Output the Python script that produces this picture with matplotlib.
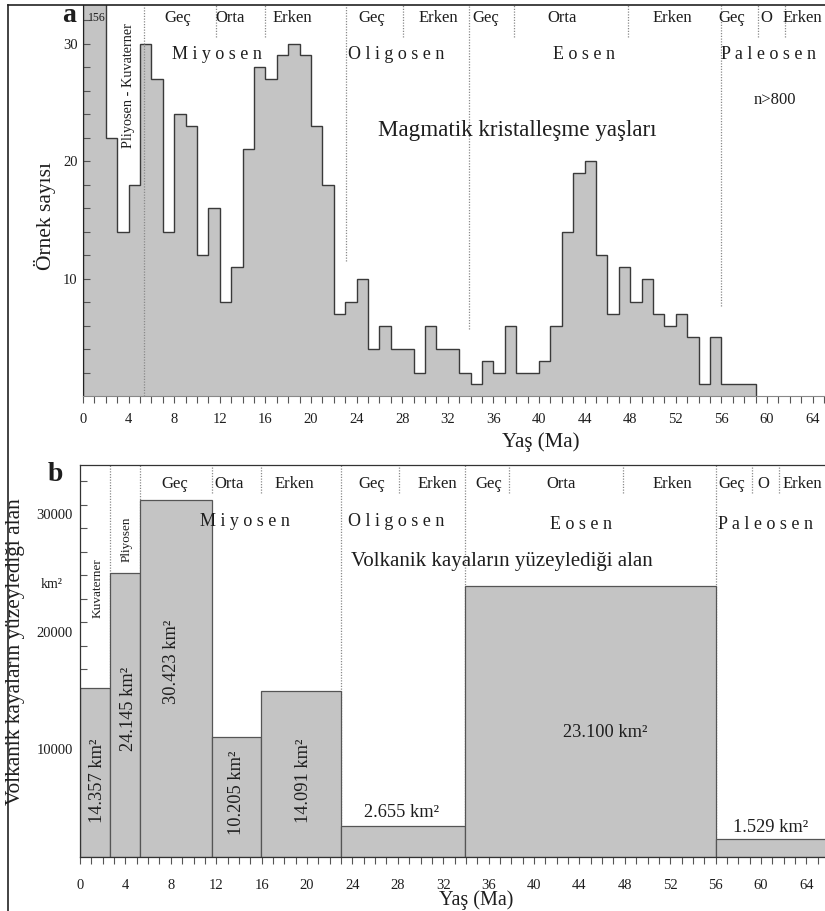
import matplotlib.pyplot as plt
import matplotlib.transforms as mtransforms
from matplotlib.lines import Line2D

plt.rcParams['font.family'] = ['Liberation Serif', 'DejaVu Serif']

# --- veri ---
# a: magmatik kristallesme yaslari, 1 My'lik siniflar (0-59 Ma)
yas_kenar = list(range(0, 60))
ornek_sayisi = [156, 34, 22, 14, 18, 30, 27, 14, 24, 23, 12, 16, 8, 11, 21, 28, 27, 29, 30, 29,
                23, 18, 7, 8, 10, 4, 6, 4, 4, 2, 6, 4, 4, 2, 1, 3, 2, 6, 2, 2,
                3, 6, 14, 19, 20, 12, 7, 11, 8, 10, 7, 6, 7, 5, 1, 5, 1, 1, 1]

# b: volkanik kayalarin yuzeyledigi alan (km2)
donem_sinir = [0, 2.6, 5.33, 11.63, 15.97, 23.03, 33.9, 56.0, 66.0]
alan_km2 = [14357, 24145, 30423, 10205, 14091, 2655, 23100, 1529]

# jeolojik zaman cizelgesi
devirler = ["Miyosen", "Oligosen", "Eosen", "Paleosen"]
alt_devirler = ["Geç", "Orta", "Erken", "Geç", "Erken", "Geç", "Orta", "Erken", "Geç", "O", "Erken"]
devir_sinir = [5.33, 23.03, 33.9, 56.0]
alt_sinir = [11.63, 15.97, 28.1, 37.8, 47.8, 59.2, 61.6]

GRI = "#c4c4c4"
KOYU = "#3a3a3a"
NOKTA = "#8a8a8a"
YAZI = "#1e1e1e"

W, H = 825, 911
fig = plt.figure(figsize=(W / 100, H / 100), dpi=100)


def kutu(x0, y0, x1, y1):
    return [x0 / W, 1 - y1 / H, (x1 - x0) / W, (y1 - y0) / H]


# cerceve
fig.add_artist(Line2D([8 / W, 8 / W], [0, 1 - 5 / H], color="#222222", lw=1.2))
fig.add_artist(Line2D([8 / W, 1], [1 - 5 / H, 1 - 5 / H], color="#222222", lw=1.2))

# ================= a =================
ax = fig.add_axes(kutu(83, 5, 825, 396))
ax.set_xlim(0, (825 - 83) / 11.4)
ax.set_ylim(0, 391 / 11.75)

ax.stairs(ornek_sayisi, yas_kenar, fill=True, facecolor=GRI, edgecolor="none", zorder=1)
ax.stairs(ornek_sayisi, yas_kenar, color=KOYU, lw=1.0, zorder=2)

ytop = ax.get_ylim()[1]
a_devir_alt = [0, 11.5, 5.7, 7.7]
ax.vlines(devir_sinir, a_devir_alt, ytop, colors=NOKTA, lw=0.9, linestyles=(0, (1, 1.2)), zorder=3)
ax.vlines(alt_sinir, ytop - 32 / 11.75, ytop, colors=NOKTA, lw=0.9, linestyles=(0, (1, 1.2)), zorder=3)

tr = ax.get_xaxis_transform()
a_alt_x = [8.33, 12.89, 18.33, 25.35, 31.14, 35.35, 42.02, 51.67, 56.93, 59.91, 63.07]
for ad, x in zip(alt_devirler, a_alt_x):
    ax.text(x, 0.967, ad, transform=tr, ha="center", va="center", fontsize=12, color=YAZI)
a_dev_x = [11.75, 27.46, 43.95, 60.09]
for ad, x in zip(devirler, a_dev_x):
    ax.text(x, 0.874, " ".join(ad), transform=tr, ha="center", va="center", fontsize=13, color=YAZI)

ax.text(3.95, 0.793, "Pliyosen - Kuvaterner", transform=tr, rotation=90, ha="center", va="center",
        fontsize=10.3, color=YAZI)
ax.text(38.07, 0.680, "Magmatik kristalleşme yaşları", transform=tr, ha="center", va="center",
        fontsize=16.6, color=YAZI)
ax.text(60.7, 0.757, "n>800", transform=tr, ha="center", va="center", fontsize=12, color=YAZI)
ax.text(0.45, 0.968, "156", transform=tr, ha="left", va="center", fontsize=8.5, color=YAZI)
fig.text(69 / W, 1 - 15 / H, "a", fontsize=20, fontweight="bold", ha="center", va="center", color=YAZI)

ax.set_xticks(range(0, 65, 4))
ax.set_xticks(range(0, 66), minor=True)
ax.set_yticks([10, 20, 30])
ax.set_yticks(range(2, 34, 2), minor=True)
ax.tick_params(axis="x", which="both", direction="out", length=5, width=0.8, color="#555555",
               labelsize=10.5, pad=7, labelcolor=YAZI)
ax.tick_params(axis="y", which="both", direction="in", length=5, width=0.8, color="#555555",
               labelsize=10.5, pad=4, labelcolor=YAZI)
ax.spines["right"].set_visible(False)
ax.spines["top"].set_visible(False)
ax.spines["left"].set_color("#222222")
ax.spines["bottom"].set_color("#888888")
ax.spines["bottom"].set_linewidth(0.8)

ax.set_xlabel("Yaş (Ma)", fontsize=15, color=YAZI)
ax.xaxis.set_label_coords(0.617, -0.093)
ax.set_ylabel("Örnek sayısı", fontsize=15.5, color=YAZI)
ax.yaxis.set_label_coords(-0.036, 0.46)

# ================= b =================
bx = fig.add_axes(kutu(80, 465, 825, 857))
bx.set_xlim(0, (825 - 80) / 11.35)
bx.set_ylim(0, 392 / 0.01175)

genislik = [donem_sinir[i + 1] - donem_sinir[i] for i in range(len(alan_km2))]
bx.bar(donem_sinir[:-1], alan_km2, width=genislik, align="edge", color=GRI, edgecolor="#555555",
       lw=0.9, zorder=2)

btop = bx.get_ylim()[1]
b_devir = [2.6] + devir_sinir
bx.vlines(b_devir, 0, btop, colors=NOKTA, lw=0.9, linestyles=(0, (1, 1.2)), zorder=1)
bx.vlines(alt_sinir, btop - 28 / 0.01175, btop, colors=NOKTA, lw=0.9, linestyles=(0, (1, 1.2)), zorder=1)

trb = bx.get_xaxis_transform()
b_alt_x = [8.37, 13.13, 18.85, 25.7, 31.5, 36.0, 42.4, 52.2, 57.4, 60.2, 63.6]
for ad, x in zip(alt_devirler, b_alt_x):
    bx.text(x, 0.952, ad, transform=trb, ha="center", va="center", fontsize=12, color=YAZI)
b_dev_x = [14.54, 27.84, 44.14, 60.44]
b_dev_y = [0.855, 0.855, 0.847, 0.847]
for ad, x, y in zip(devirler, b_dev_x, b_dev_y):
    bx.text(x, y, " ".join(ad), transform=trb, ha="center", va="center", fontsize=13, color=YAZI)

bx.text(1.59, 0.686, "Kuvaterner", transform=trb, rotation=90, ha="center", va="center",
        fontsize=9.5, color=YAZI)
bx.text(4.14, 0.811, "Pliyosen", transform=trb, rotation=90, ha="center", va="center",
        fontsize=9.5, color=YAZI)
bx.text(37.18, 0.753, "Volkanik kayaların yüzeylediği alan", transform=trb, ha="center",
        va="center", fontsize=15, color=YAZI)

# bar etiketleri
etiket_yer = [(1.5, 6468, 90), (4.3, 12596, 90), (8.1, 16596, 90), (13.83, 5447, 90),
              (19.65, 6468, 90), (28.37, 3745, 0), (46.26, 10638, 0), (60.88, 2553, 0)]
for v, (x, y, rot) in zip(alan_km2, etiket_yer):
    s = f"{v / 1000:.3f} km²"
    bx.text(x, y, s, rotation=rot, ha="center", va="center", fontsize=13.2, color=YAZI)

fig.text(55 / W, 1 - 474 / H, "b", fontsize=20, fontweight="bold", ha="center", va="center", color=YAZI)

bx.set_xticks(range(0, 65, 4))
bx.set_xticks(range(0, 66), minor=True)
bx.set_yticks([10000, 20000, 30000])
bx.set_yticks(range(2000, 33000, 2000), minor=True)
bx.tick_params(axis="x", which="both", direction="out", length=5, width=0.8, color="#555555",
               labelsize=10.5, pad=11, labelcolor=YAZI)
bx.tick_params(axis="y", which="both", direction="in", length=5, width=0.8, color="#555555",
               labelsize=10.5, pad=5, labelcolor=YAZI)
kaydir = mtransforms.ScaledTranslation(0, -7 / 72, fig.dpi_scale_trans)
for lab in bx.get_yticklabels():
    lab.set_transform(lab.get_transform() + kaydir)
bx.text(-0.038, 0.694, "km²", transform=bx.transAxes, ha="center", va="center", fontsize=10, color=YAZI)

bx.spines["right"].set_visible(False)
for s in ["left", "top", "bottom"]:
    bx.spines[s].set_color("#333333")
    bx.spines[s].set_linewidth(0.9)

bx.set_xlabel("Yaş (Ma)", fontsize=14.5, color=YAZI)
bx.xaxis.set_label_coords(0.532, -0.086)
bx.set_ylabel("Volkanik kayaların yüzeylediği alan", fontsize=15.3, color=YAZI)
bx.yaxis.set_label_coords(-0.074, 0.523)

fig.savefig("out.png", dpi=100)
